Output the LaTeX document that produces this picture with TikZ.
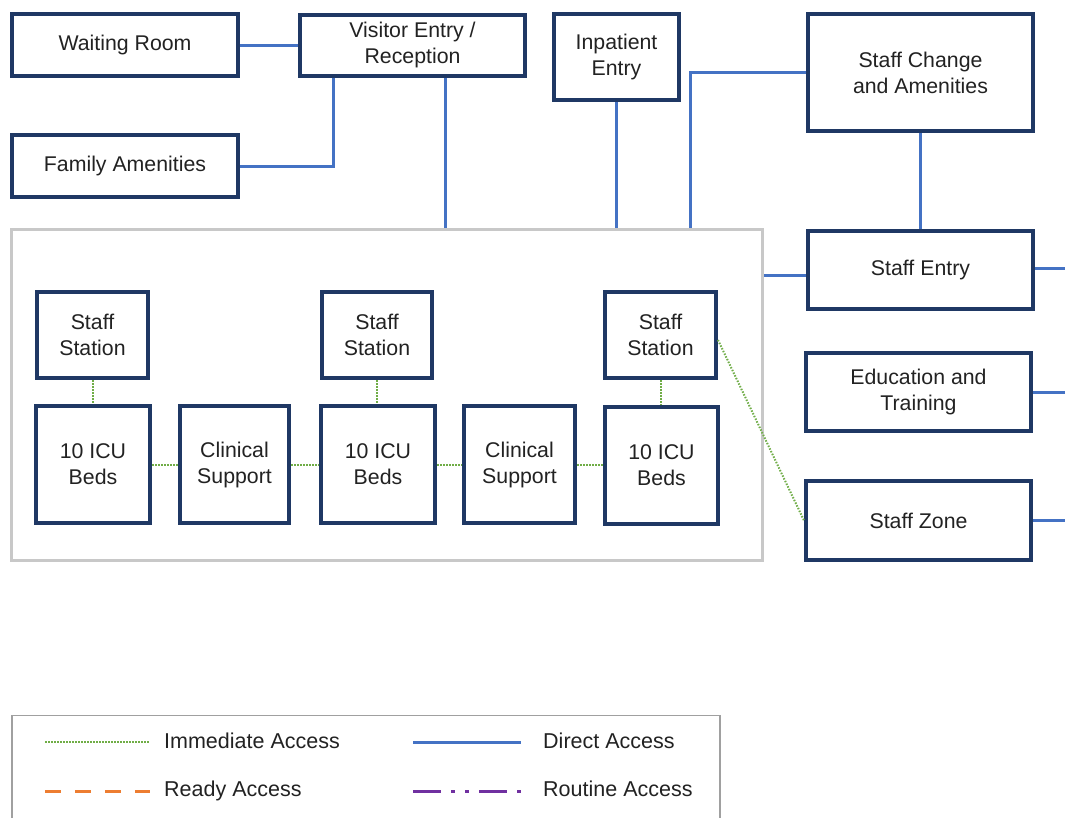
\documentclass[tikz,border=0pt]{standalone}
\usepackage{fontspec}
\setmainfont{Liberation Sans}
\definecolor{navy}{HTML}{1F3864}
\definecolor{linkblue}{HTML}{4472C4}
\definecolor{zonegrey}{HTML}{C8C8C8}
\definecolor{immgreen}{HTML}{70AD47}
\definecolor{readyorange}{HTML}{ED7D31}
\definecolor{routinepurple}{HTML}{7030A0}
\definecolor{txt}{HTML}{222222}
\tikzset{
  box/.style={draw=navy, line width=4pt, fill=white, inner sep=0pt, align=center,
    text=txt, font=\fontsize{21.3}{26}\selectfont},
  direct/.style={draw=linkblue, line width=3pt},
  immediate/.style={draw=immgreen, line width=2pt, dash pattern=on 1.5pt off 1.5pt},
  ready/.style={draw=readyorange, line width=3pt, dash pattern=on 16pt off 14pt},
  routine/.style={draw=routinepurple, line width=3pt, dash pattern=on 28pt off 10pt on 4pt off 10pt on 4pt off 10pt},
  legtext/.style={anchor=west, inner sep=0pt, text=txt, font=\fontsize{21.5}{26}\selectfont},
}
\begin{document}
\begin{tikzpicture}[x=1pt, y=-1pt]
\useasboundingbox (0,0) rectangle (1065,817);
\fill[white] (0,0) rectangle (1065,817);

% unit enclosure
\node[draw=zonegrey, line width=3pt, minimum width=751pt, minimum height=331pt, inner sep=0pt]
  (unit) at (387,395) {};

% top row and side rooms
\node[box, minimum width=226pt, minimum height=62pt] (wait) at (125,45) {Waiting Room};
\node[box, minimum width=225pt, minimum height=61pt] (visit) at (412.5,45) {Visitor Entry /\\Reception};
\node[box, minimum width=125pt, minimum height=86pt] (inpat) at (616.5,57) {Inpatient\\Entry};
\node[box, minimum width=225pt, minimum height=117pt] (change) at (920.5,72.5) {Staff Change\\and Amenities};
\node[box, minimum width=226pt, minimum height=62pt] (family) at (125,166) {Family Amenities};
\node[box, minimum width=225pt, minimum height=78pt] (entry) at (920.5,270) {Staff Entry};
\node[box, minimum width=225pt, minimum height=78pt] (edu) at (918.5,392) {Education and\\Training};
\node[box, minimum width=225pt, minimum height=79pt] (zone) at (918.5,520.5) {Staff Zone};

% pods inside the unit
\node[box, minimum width=111pt, minimum height=86pt] (ssA) at (92.5,335) {Staff\\Station};
\node[box, minimum width=110pt, minimum height=86pt] (ssB) at (377,335) {Staff\\Station};
\node[box, minimum width=111pt, minimum height=86pt] (ssC) at (660.5,335) {Staff\\Station};
\node[box, minimum width=114pt, minimum height=117pt] (icuA) at (93,464.5) {10 ICU\\Beds};
\node[box, minimum width=109pt, minimum height=117pt] (csA) at (234.5,464.5) {Clinical\\Support};
\node[box, minimum width=114pt, minimum height=117pt] (icuB) at (378,464.5) {10 ICU\\Beds};
\node[box, minimum width=111pt, minimum height=117pt] (csB) at (519.5,464.5) {Clinical\\Support};
\node[box, minimum width=113pt, minimum height=117pt] (icuC) at (661.5,465.5) {10 ICU\\Beds};

% free ends running off to the right
\coordinate (entryout) at (1065,268);
\coordinate (eduout) at (1065,392);
\coordinate (zoneout) at (1065,520.5);

% direct access links
\draw[direct] (wait.east) -- (visit.west);
\draw[direct] ([xshift=-79.5pt]visit.south) |- (family.east);
\draw[direct] ([xshift=32.5pt]visit.south) -- ([xshift=32.5pt]visit.south |- unit.north);
\draw[direct] (inpat.south) -- (inpat.south |- unit.north);
\draw[direct] (change.west) -| ([xshift=303pt]unit.north);
\draw[direct] (change.south) -- (entry.north);
\draw[direct] ([yshift=-5pt]entry.west) -- ([yshift=-5pt]entry.west -| unit.east);
\draw[direct] ([yshift=2pt]entry.east) -- (entryout);
\draw[direct] (edu.east) -- (eduout);
\draw[direct] (zone.east) -- (zoneout);

% immediate access links
\draw[immediate] (ssA.south) -- (icuA.north -| ssA.south);
\draw[immediate] (ssB.south) -- (icuB.north -| ssB.south);
\draw[immediate] (ssC.south) -- (icuC.north -| ssC.south);
\draw[immediate] (icuA.east) -- (csA.west);
\draw[immediate] (csA.east) -- (icuB.west);
\draw[immediate] (icuB.east) -- (csB.west);
\draw[immediate] (csB.east) -- (icuC.west |- csB.east);
\draw[immediate] ([yshift=-5pt]ssC.east) -- (zone.west);

% legend
\draw[draw=zonegrey!80!black, line width=1.5pt] (12,830) -- (12,715.5) -- (720,715.5) -- (720,830);
\coordinate (lgA1) at (45,742); \coordinate (lgA2) at (150,742);
\coordinate (lgB1) at (413,742); \coordinate (lgB2) at (521,742);
\coordinate (lgC1) at (45,791); \coordinate (lgC2) at (150,791);
\coordinate (lgD1) at (413,791); \coordinate (lgD2) at (521,791);
\draw[immediate] (lgA1) -- (lgA2);
\draw[direct] (lgB1) -- (lgB2);
\draw[ready] (lgC1) -- (lgC2);
\draw[routine] (lgD1) -- (lgD2);
\node[legtext] (lgtA) at (164,741) {Immediate Access};
\node[legtext] (lgtB) at (543,741) {Direct Access};
\node[legtext] (lgtC) at (164,791) {Ready Access};
\node[legtext] (lgtD) at (543,789) {Routine Access};
\end{tikzpicture}
\end{document}
